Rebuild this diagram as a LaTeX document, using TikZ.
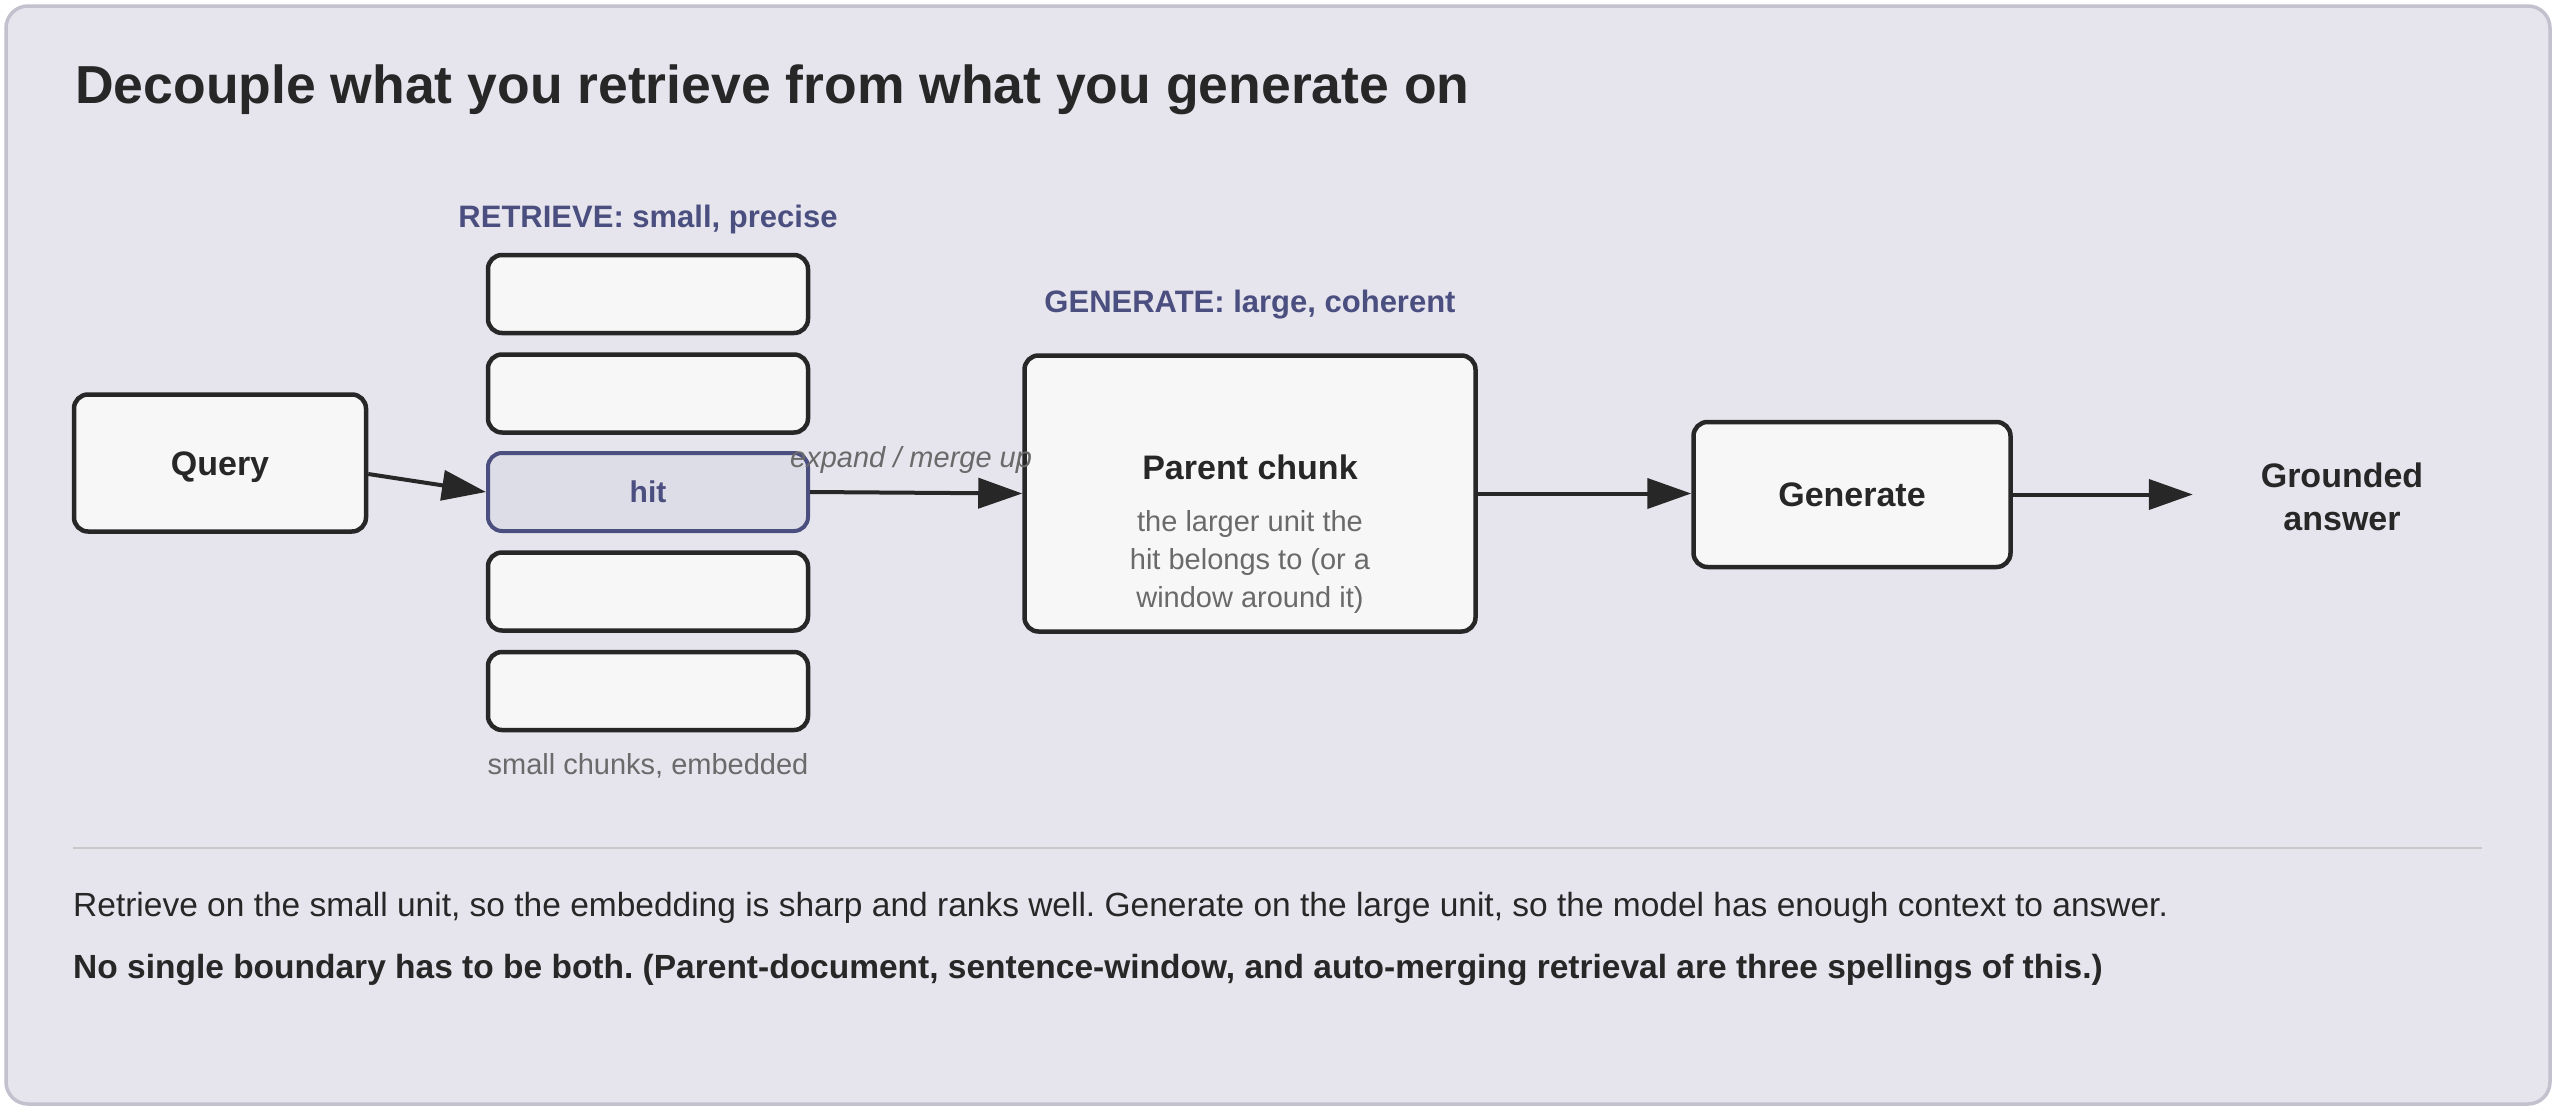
\documentclass[tikz,border=0pt]{standalone}
\usepackage{fontspec}
\setmainfont{Liberation Sans}
\usetikzlibrary{arrows.meta}
\definecolor{pagebg}{HTML}{E6E5EE}
\definecolor{framecol}{HTML}{C2C1CE}
\definecolor{boxfill}{HTML}{F7F7F7}
\definecolor{ink}{HTML}{272727}
\definecolor{accent}{HTML}{4B4F80}
\definecolor{hitfill}{HTML}{DDDDE7}
\definecolor{muted}{HTML}{6A6A6A}
\definecolor{rulecol}{HTML}{C9C8CB}
\newcommand{\myfs}[2]{\fontsize{#1}{#2}\selectfont}
\frenchspacing
\begin{document}
\begin{tikzpicture}[x=1pt,y=-1pt,
  box/.style={draw=ink, fill=boxfill, line width=4.5pt, rounded corners=14pt, inner sep=0pt, text=ink, font=\bfseries\myfs{34}{40}, text height=24pt, text depth=0pt},
  chunkbox/.style={box, minimum width=320pt, minimum height=78pt},
  hitbox/.style={chunkbox, draw=accent, fill=hitfill, line width=4pt, text=accent, font=\bfseries\myfs{30}{36}, text height=21pt},
  arr/.style={draw=ink, line width=4pt, -{Triangle[length=44pt,width=30pt]}},
  lbl/.style={inner sep=0pt, anchor=base},
  headlbl/.style={lbl, text=accent, font=\bfseries\myfs{31}{36}},
  mutedlbl/.style={inner sep=0pt, text=muted, font=\myfs{29}{38}},
  bodytext/.style={inner sep=0pt, anchor=base west, text=ink, font=\myfs{33.5}{40}}
]
\useasboundingbox (0,0) rectangle (2560,1112);
\fill[white] (0,0) rectangle (2560,1112);
\draw[framecol, fill=pagebg, line width=3.5pt, rounded corners=22pt] (6,6) rectangle (2550,1104);

% title
\node[inner sep=0pt, anchor=base west, text=ink, font=\bfseries\myfs{53.5}{60}] (title) at (75,103) {Decouple what you retrieve from what you generate on};

% query
\node[box, minimum width=292pt, minimum height=137pt] (q) at (220,463) {Query};

% retrieve column
\node[headlbl] (rlabel) at (648,227) {RETRIEVE: small, precise};
\node[chunkbox] (c1) at (648,294) {};
\node[chunkbox] (c2) at (648,393.5) {};
\node[hitbox] (hit) at (648,492) {hit};
\node[chunkbox] (c4) at (648,591.5) {};
\node[chunkbox] (c5) at (648,691) {};
\node[mutedlbl, anchor=base] (clabel) at (648,774) {small chunks, embedded};

% generate column
\node[headlbl] (glabel) at (1250,312) {GENERATE: large, coherent};
\node[box, minimum width=451pt, minimum height=276pt] (parent) at (1250,493.5) {};
\node[lbl, text=ink, font=\bfseries\myfs{34}{40}] (ptitle) at (1250,479) {Parent chunk};
\node[mutedlbl, align=center] (psub) at (1250,562) {the larger unit the\\hit belongs to (or a\\window around it)};

\node[box, minimum width=317pt, minimum height=145pt] (gen) at (1852,494.5) {Generate};
\node[inner sep=0pt, minimum width=298pt, align=center, text=ink, font=\bfseries\myfs{34}{43}] (ans) at (2342,496.5) {Grounded\\answer};

% connectors
\draw[arr] ([yshift=-11pt]q.east) -- (hit.west);
\draw[arr] (hit.east) -- node[lbl, pos=0.5, yshift=25pt, xshift=-5pt, text=muted, font=\itshape\myfs{29}{34}] (exlabel) {expand / merge up} (parent.west);
\draw[arr] (parent.east) -- (parent.east -| gen.west);
\draw[arr] (gen.east) -- (gen.east -| ans.west);

% separator and footer
\coordinate (rulel) at (73,848);
\coordinate (ruler) at (2482,848);
\draw[rulecol, line width=2.5pt] (rulel) -- (ruler);
\node[bodytext] (body1) at (73,916) {Retrieve on the small unit, so the embedding is sharp and ranks well. Generate on the large unit, so the model has enough context to answer.};
\node[bodytext, font=\bfseries\myfs{33.5}{40}] (body2) at (73,978) {No single boundary has to be both. (Parent-document, sentence-window, and auto-merging retrieval are three spellings of this.)};
\end{tikzpicture}
\end{document}
